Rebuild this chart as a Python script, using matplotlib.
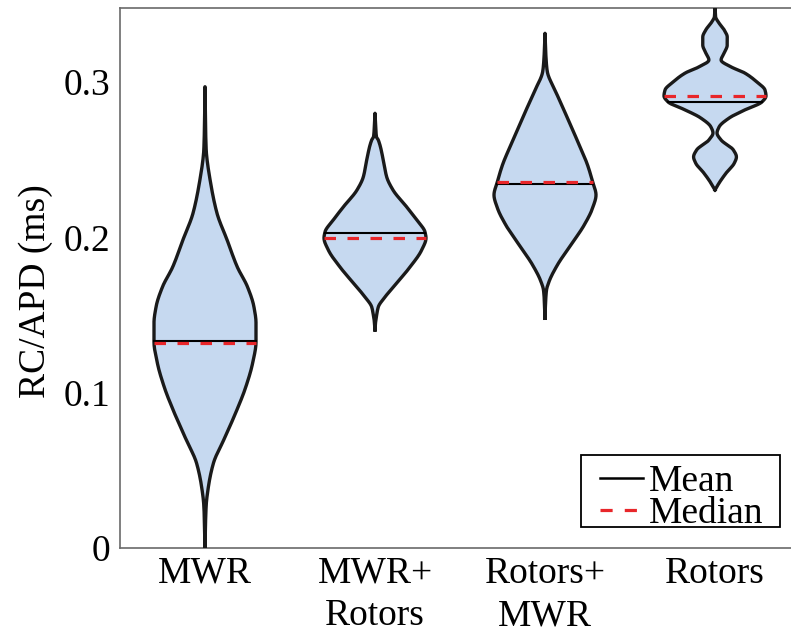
import numpy as np
import matplotlib
matplotlib.use("Agg")
import matplotlib.pyplot as plt
from matplotlib.lines import Line2D
from matplotlib.patches import Rectangle

plt.rcParams['font.family'] = ['Liberation Serif', 'DejaVu Serif']

categories = ["MWR", "MWR+\nRotors", "Rotors+\nMWR", "Rotors"]

# violin outlines: y values (ms) and relative half-widths (density)
mwr_y = [0.2970, 0.2692, 0.2560, 0.2520, 0.2370, 0.2157, 0.1983, 0.1809, 0.1681, 0.1552,
         0.1449, 0.1327, 0.1191, 0.1037, 0.0869, 0.0695, 0.0547, 0.0393, 0.0277, 0.0180, 0.0]
mwr_d = [0, 0.6, 1.2, 1.7, 5, 11.7, 21.7, 31.7, 41.7, 48,
         50, 50, 46.7, 40, 30, 18.3, 8.3, 3.3, 1.2, 0.6, 0]

mr_y = [0.2799, 0.2724, 0.2647, 0.2627, 0.2498, 0.2389, 0.2305, 0.2196, 0.2112, 0.2035,
        0.1996, 0.1919, 0.1809, 0.1706, 0.1616, 0.1552, 0.1494, 0.1455, 0.1404]
mr_d = [0, 0.6, 1.5, 3.3, 8.3, 11.7, 18, 31.7, 41.7, 50,
        51, 46.7, 35, 21.7, 10, 3.3, 1.5, 0.6, 0]

rm_y = [0.3314, 0.3207, 0.3110, 0.3067, 0.2938, 0.2769, 0.2595, 0.2466, 0.2359, 0.2273,
        0.2189, 0.2080, 0.1951, 0.1822, 0.1715, 0.1661, 0.1584, 0.1479]
rm_d = [0, 0.6, 1.5, 2.3, 10.7, 22.3, 34, 42.3, 47.3, 50.7,
        47.3, 39, 25.7, 12.3, 4, 1.5, 0.6, 0]

ro_y = [0.3486, 0.3420, 0.3389, 0.3336, 0.3290, 0.3239, 0.3187, 0.3142, 0.3097, 0.3059,
        0.3001, 0.2949, 0.2911, 0.2872, 0.2820, 0.2769, 0.2711, 0.2672, 0.2627, 0.2563,
        0.2518, 0.2479, 0.2415, 0.2350, 0.2305]
ro_d = [0, 0.6, 3, 9, 12, 12, 9, 6, 16, 29,
        41, 49, 50, 46, 29, 14, 4, 2, 6, 18,
        21, 19, 11, 4, 0]

profiles_y = [mwr_y, mr_y, rm_y, ro_y]
profiles_d = [mwr_d, mr_d, rm_d, ro_d]
means = [0.1330, 0.2031, 0.2342, 0.2872]
medians = [0.1320, 0.1996, 0.2359, 0.2911]

fill_color = "#C6D9F0"
edge_color = "#1a1a1a"
red = "#E8262A"
max_half_width = 0.30
FS = 27


def pchip(x, y, xn):
    """Monotone cubic (Fritsch-Carlson) curve through the read outline points, for drawing."""
    x = np.asarray(x, float)
    y = np.asarray(y, float)
    h = np.diff(x)
    delta = np.diff(y) / h
    n = len(x)
    m = np.zeros(n)
    for k in range(1, n - 1):
        if delta[k - 1] * delta[k] > 0:
            w1 = 2 * h[k] + h[k - 1]
            w2 = h[k] + 2 * h[k - 1]
            m[k] = (w1 + w2) / (w1 / delta[k - 1] + w2 / delta[k])
    m[0] = delta[0]
    m[-1] = delta[-1]
    idx = np.clip(np.searchsorted(x, xn) - 1, 0, n - 2)
    t = (xn - x[idx]) / h[idx]
    h00 = 2 * t**3 - 3 * t**2 + 1
    h10 = t**3 - 2 * t**2 + t
    h01 = -2 * t**3 + 3 * t**2
    h11 = t**3 - t**2
    return h00 * y[idx] + h10 * h[idx] * m[idx] + h01 * y[idx + 1] + h11 * h[idx] * m[idx + 1]


fig = plt.figure(figsize=(7.91, 6.38), dpi=100)
ax = fig.add_axes([120 / 791, 90 / 638, 680 / 791, 540 / 638])

for i, (ys, ds) in enumerate(zip(profiles_y, profiles_d)):
    x0 = i + 1
    ys = np.array(ys)
    hw = np.array(ds, dtype=float)
    hw = hw / hw.max() * max_half_width
    order = np.argsort(ys)
    ys_s, hw_s = ys[order], hw[order]
    yf = np.linspace(ys_s[0], ys_s[-1], 600)
    hf = np.clip(pchip(ys_s, hw_s, yf), 0, None)
    ax.fill_betweenx(yf, x0 - hf, x0 + hf, color=fill_color, lw=0, zorder=1)
    xs = np.concatenate([x0 - hf, (x0 + hf)[::-1], [x0 - hf[0]]])
    yy = np.concatenate([yf, yf[::-1], [yf[0]]])
    ax.plot(xs, yy, color=edge_color, lw=2.4, solid_joinstyle='round', zorder=3)
    w_mean = np.interp(means[i], yf, hf)
    w_med = np.interp(medians[i], yf, hf)
    ax.plot([x0 - w_mean, x0 + w_mean], [means[i]] * 2, color='black', lw=1.5, zorder=4)
    ax.plot([x0 - w_med, x0 + w_med], [medians[i]] * 2, color=red, lw=2.3,
            dashes=(3.6, 3.6), zorder=5)

ax.set_xlim(0.5, 4.5)
ax.set_ylim(0, 0.3477)
ax.set_xticks([1, 2, 3, 4])
ax.set_xticklabels(categories, fontsize=FS, linespacing=1.3, va='top')
ax.set_yticks([0, 0.1, 0.2, 0.3])
ax.set_yticklabels(["0", "0.1", "0.2", "0.3"], fontsize=FS)
ax.tick_params(length=0)
ax.tick_params(axis='y', pad=7)
ax.tick_params(axis='x', pad=6)
ax.set_ylabel("RC/APD (ms)", fontsize=FS)
ax.yaxis.set_label_coords(-0.098, 0.476)
for sp in ax.spines.values():
    sp.set_color("#6a6a6a")
    sp.set_linewidth(1.2)

# legend: frameless entries inside a hand-placed box
box = Rectangle((0.678, 0.039), 0.2926, 0.1333, transform=ax.transAxes,
                facecolor='white', edgecolor='black', lw=1.3, zorder=6)
ax.add_patch(box)
handles = [Line2D([], [], color='black', lw=1.8),
           Line2D([], [], color=red, lw=2.3, dashes=(3.8, 3.8))]
leg = ax.legend(handles, ["Mean", "Median"], loc='center',
                bbox_to_anchor=(0.8265, 0.093), borderaxespad=0, fontsize=FS,
                frameon=False, handlelength=1.15, handletextpad=0.16,
                labelspacing=-0.08, borderpad=0.0)
leg.set_zorder(7)

fig.savefig("out.png", dpi=100)
